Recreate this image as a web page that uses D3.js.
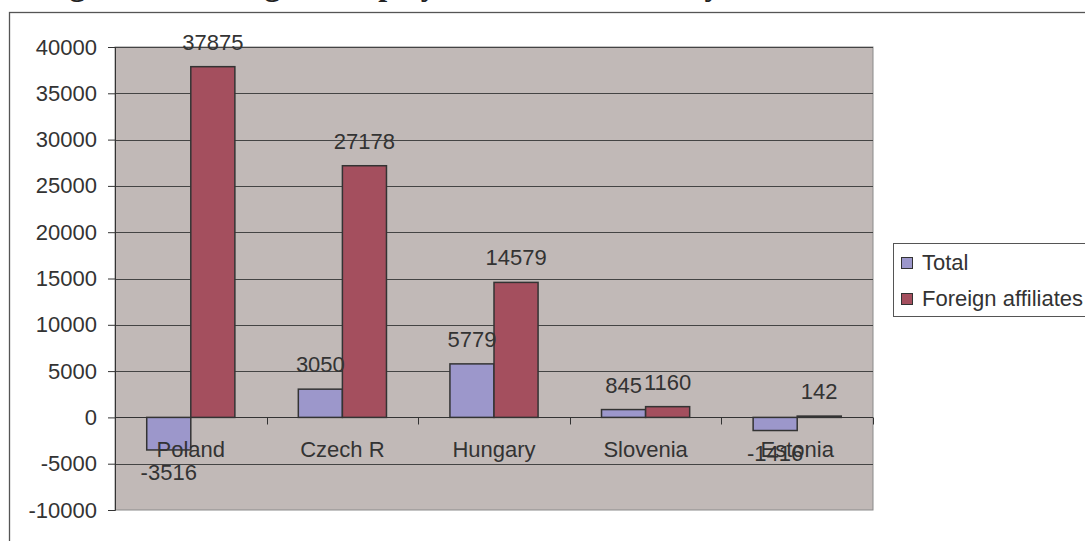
<!DOCTYPE html>
<html>
<head>
<meta charset="utf-8">
<script src="https://cdn.jsdelivr.net/npm/d3@7"></script>
<style>
  body { margin: 0; background: #fff; }
  text { font-family: Arial, "Liberation Sans", sans-serif; }
</style>
</head>
<body>
<svg id="chart" width="1085" height="541"></svg>
<script>

var categories = ['Poland', 'Czech R', 'Hungary', 'Slovenia', 'Estonia'];
var seriesNames = ['Total', 'Foreign affiliates'];
var totalValues = [-3516, 3050, 5779, 845, -1416];
var foreignValues = [37875, 27178, 14579, 1160, 142];
var yTicks = [-10000, -5000, 0, 5000, 10000, 15000, 20000, 25000, 30000, 35000, 40000];
var seriesColors = ['#9C97CB', '#A44F5E'];
var titleText = 'Figure 13: Change in employment in the economy';

var svg = d3.select('#chart');
var plot = { left: 115, right: 873, top: 47, bottom: 510 };
var fontSize = 22;
var textColor = '#333';

// title, mostly cut off by the top of the picture
svg.append('text')
    .attr('x', 41)
    .attr('y', -5)
    .style('font-family', '"Liberation Serif", "Times New Roman", serif')
    .style('font-weight', 'bold')
    .style('font-size', '32px')
    .style('fill', '#222')
    .text(titleText);

// chart frame
svg.append('rect')
    .attr('x', 9.5).attr('y', 12.5)
    .attr('width', 1100).attr('height', 560)
    .style('fill', '#fff')
    .style('stroke', '#555')
    .style('stroke-width', 1.3);

var x0 = d3.scaleBand()
    .domain(categories)
    .range([plot.left, plot.right])
    .paddingInner(0).paddingOuter(0);

var x1 = d3.scaleBand()
    .domain(seriesNames)
    .range([0, x0.bandwidth()])
    .paddingInner(0)
    .paddingOuter(0.72);

var y = d3.scaleLinear()
    .domain([-10000, 40000])
    .range([plot.bottom, plot.top]);

// plot background
svg.append('rect')
    .attr('x', plot.left).attr('y', plot.top)
    .attr('width', plot.right - plot.left)
    .attr('height', plot.bottom - plot.top)
    .style('fill', '#C1B9B7')
    .style('stroke', '#8a8a8a')
    .style('stroke-width', 1);

// gridlines
svg.selectAll('.grid')
    .data(yTicks.filter(function (d) { return d !== -10000; }))
  .enter().append('line')
    .attr('class', 'grid')
    .attr('x1', plot.left).attr('x2', plot.right)
    .attr('y1', function (d) { return Math.round(y(d)) + 0.5; })
    .attr('y2', function (d) { return Math.round(y(d)) + 0.5; })
    .style('stroke', '#444')
    .style('stroke-width', 1);

// bars
var rows = categories.map(function (c, i) {
    return { key: c, values: [
        { series: seriesNames[0], value: totalValues[i] },
        { series: seriesNames[1], value: foreignValues[i] }
    ] };
});

var groups = svg.selectAll('.group')
    .data(rows)
  .enter().append('g')
    .attr('class', 'group')
    .attr('transform', function (d) { return 'translate(' + x0(d.key) + ',0)'; });

groups.selectAll('rect')
    .data(function (d) { return d.values; })
  .enter().append('rect')
    .attr('x', function (d) { return x1(d.series); })
    .attr('width', x1.bandwidth())
    .attr('y', function (d) { return y(Math.max(0, d.value)); })
    .attr('height', function (d) { return Math.abs(y(d.value) - y(0)); })
    .style('fill', function (d, i) { return seriesColors[i]; })
    .style('stroke', '#333')
    .style('stroke-width', 1.5);

// value axis (plain hyphen for negatives, like the original)
var yAxis = svg.append('g')
    .attr('transform', 'translate(' + plot.left + ',0)')
    .call(d3.axisLeft(y).tickValues(yTicks).tickSize(7).tickPadding(11)
        .tickFormat(function (d) { return String(d); }));
yAxis.select('.domain').style('stroke', '#333');
yAxis.selectAll('.tick line').style('stroke', '#333');
yAxis.selectAll('.tick text')
    .style('font-size', fontSize + 'px')
    .style('fill', textColor)
    .style('font-family', 'Arial, "Liberation Sans", sans-serif');

// category axis along zero
var zeroY = Math.round(y(0)) + 0.5;
svg.append('line')
    .attr('x1', plot.left).attr('x2', plot.right)
    .attr('y1', zeroY).attr('y2', zeroY)
    .style('stroke', '#333');

var bounds = categories.map(function (c) { return x0(c); }).concat([plot.right]);
svg.selectAll('.cat-tick')
    .data(bounds)
  .enter().append('line')
    .attr('class', 'cat-tick')
    .attr('x1', function (d) { return Math.round(d) + 0.5; })
    .attr('x2', function (d) { return Math.round(d) + 0.5; })
    .attr('y1', zeroY).attr('y2', zeroY + 7)
    .style('stroke', '#333');

// data labels
groups.selectAll('.value-label')
    .data(function (d) { return d.values; })
  .enter().append('text')
    .attr('class', 'value-label')
    .attr('x', function (d) { return x1(d.series) + x1.bandwidth() / 2; })
    .attr('y', function (d) { return d.value >= 0 ? y(d.value) - 17 : y(d.value) + 30; })
    .style('text-anchor', 'middle')
    .style('font-size', fontSize + 'px')
    .style('fill', textColor)
    .text(function (d) { return d.value; });

// category labels
svg.selectAll('.item-label')
    .data(categories)
  .enter().append('text')
    .attr('class', 'item-label')
    .attr('x', function (d) { return x0(d) + x0.bandwidth() / 2; })
    .attr('y', 457)
    .style('text-anchor', 'middle')
    .style('font-size', fontSize + 'px')
    .style('fill', textColor)
    .text(function (d) { return d; });

// legend
var legend = svg.append('g').attr('transform', 'translate(893,243)');
legend.append('rect')
    .attr('x', 0.5).attr('y', 0.5)
    .attr('width', 220).attr('height', 73)
    .style('fill', '#fff')
    .style('stroke', '#555');

var items = legend.selectAll('.legend-item')
    .data(seriesNames)
  .enter().append('g')
    .attr('class', 'legend-item')
    .attr('transform', function (d, i) { return 'translate(0,' + (i * 36) + ')'; });

items.append('rect')
    .attr('x', 8.5).attr('y', 14.5)
    .attr('width', 11).attr('height', 11)
    .style('fill', function (d, i) { return seriesColors[i]; })
    .style('stroke', '#333');

items.append('text')
    .attr('x', 29)
    .attr('y', 27)
    .style('font-size', fontSize + 'px')
    .style('fill', textColor)
    .text(function (d) { return d; });

</script>
</body>
</html>
